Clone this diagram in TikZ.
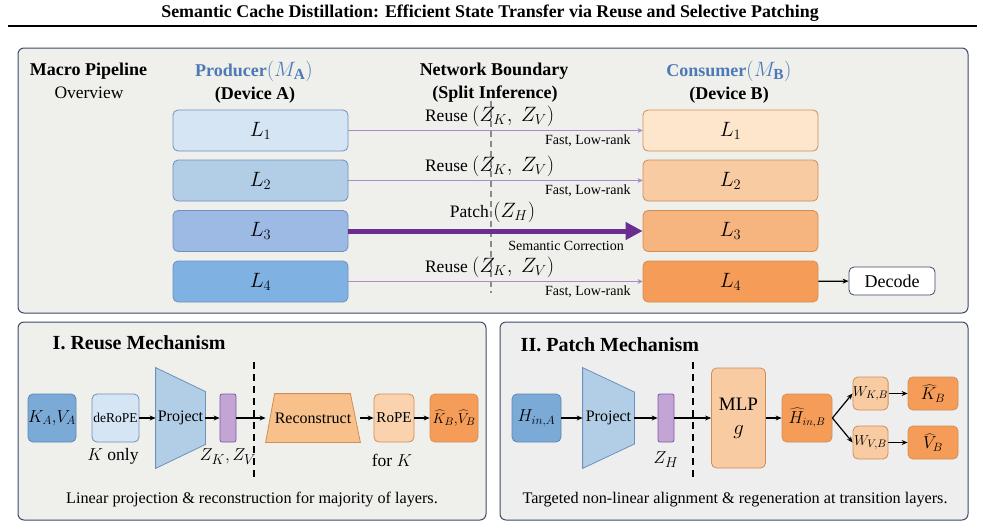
\documentclass[tikz,border=0pt]{standalone}
\usepackage{fontspec}
\setmainfont{Liberation Serif}
\usetikzlibrary{arrows.meta, calc, positioning}
\definecolor{cframe}{HTML}{3B4A68}
\definecolor{cpanel}{HTML}{EFEFEC}
\definecolor{cpanelb}{HTML}{EEEEEE}
\definecolor{cblueline}{HTML}{6F8FBC}
\definecolor{cbluetext}{HTML}{4C7AB6}
\definecolor{corline}{HTML}{D08E55}
\definecolor{cpurple}{HTML}{6C2D91}
\definecolor{clilac}{HTML}{A98BC6}
\definecolor{cbar}{HTML}{C2A5D4}
\definecolor{cbarline}{HTML}{7E5AA6}
\definecolor{cgrey}{HTML}{8A8A8A}
\definecolor{ab1}{HTML}{D5E5F4}
\definecolor{ab2}{HTML}{B2CEE6}
\definecolor{ab3}{HTML}{9DBAE5}
\definecolor{ab4}{HTML}{80B1E3}
\definecolor{ob1}{HTML}{FDE6CC}
\definecolor{ob2}{HTML}{F8CBA2}
\definecolor{ob3}{HTML}{F6B47E}
\definecolor{ob4}{HTML}{F59D58}
\definecolor{cdark}{HTML}{7BAAD7}
\definecolor{cdarkline}{HTML}{5A86B8}
\definecolor{cpeach}{HTML}{F8C08A}
\definecolor{clight}{HTML}{FAD3AE}
\tikzset{
  every picture/.style={line width=0.8pt},
  panel/.style={draw=cframe, fill=#1, rounded corners=6pt, line width=1pt},
  layer/.style={draw=#1, rounded corners=5pt, minimum width=175pt, minimum height=41pt, inner sep=0pt, font=\fontsize{21}{24}\selectfont},
  blk/.style 2 args={draw=#1, fill=#2, rounded corners=5pt, inner sep=0pt, align=center, font=\fontsize{15}{17}\selectfont},
  bar/.style={draw=cbarline, fill=cbar, rounded corners=2pt, minimum width=16pt, minimum height=48pt, inner sep=0pt},
  arrow/.style={-{Stealth[length=6pt, width=5pt]}, line width=1.2pt},
  reuse/.style={-{Stealth[length=5pt, width=5pt]}, draw=clilac, line width=1.3pt},
  patch/.style={-{Triangle[length=17pt, width=17pt]}, draw=cpurple, line width=5pt},
  hdr/.style={font=\bfseries\fontsize{18}{21}\selectfont},
  sub/.style={font=\fontsize{17.5}{20}\selectfont},
  sec/.style={font=\bfseries\fontsize{20}{23}\selectfont, anchor=west},
  note/.style={font=\fontsize{14}{16}\selectfont},
  captext/.style={font=\fontsize{16.2}{19}\selectfont},
  splitline/.style={draw=black, line width=1.6pt, dash pattern=on 7pt off 5pt},
}

\begin{document}
\begin{tikzpicture}[x=1pt, y=-1pt]
  \useasboundingbox (0,0) rectangle (985,528);
  % title and rule
  \node[font=\bfseries\fontsize{17.9}{20}\selectfont] (title) at (490,13) {Semantic Cache Distillation: Efficient State Transfer via Reuse and Selective Patching};
  \draw[line width=2pt] (8,26) -- (977,26);

  % panels
  \draw[panel=cpanel] (18,48) rectangle (968,313);
  \draw[panel=cpanel] (18,322) rectangle (486,520);
  \draw[panel=cpanelb] (500,322) rectangle (968,520);

  % macro pipeline
  \node[hdr] (macro) at (88.5,71) {Macro Pipeline};
  \node[sub] (overview) at (89,93) {Overview};
  \node[hdr, text=cbluetext] (prod) at (254,71) {Producer{\fontsize{22}{24}\selectfont$\bigl(M_{\mathbf{A}}\bigr)$}};
  \node[hdr] (devA) at (255,95) {(Device A)};
  \node[hdr] (net) at (494,71) {Network Boundary};
  \node[hdr] (splitinf) at (495,94) {(Split Inference)};
  \node[hdr, text=cbluetext] (cons) at (729,71) {Consumer{\fontsize{22}{24}\selectfont$\bigl(M_{\mathbf{B}}\bigr)$}};
  \node[hdr] (devB) at (729,95) {(Device B)};
  \draw[cgrey, line width=1.2pt, dash pattern=on 6pt off 4pt] (491,101) -- (491,293);

  \foreach \i/\y in {1/130.5, 2/180.5, 3/231, 4/281.5} {
    \node[layer=cblueline, fill=ab\i] (pa\i) at (260.5,\y) {$L_{\i}$};
    \node[layer=corline, fill=ob\i] (cb\i) at (730.5,\y) {$L_{\i}$};
  }
  \foreach \i in {1,2,4} {
    \draw[reuse] (pa\i) -- (cb\i)
      node[pos=0.48, above=0pt, sub, text=black] {Reuse {\fontsize{20}{22}\selectfont$(Z_K,\ Z_V)$}}
      node[pos=1, below left=0pt and 8pt, note, text=black] {Fast, Low-rank};
  }
  \draw[patch] (pa3) -- (cb3)
    node[pos=0.49, above=3pt, sub, text=black] {Patch {\fontsize{20}{22}\selectfont$(Z_H)$}}
    node[pos=0.74, below=4pt, note, text=black] {Semantic Correction};

  \node[blk={cframe}{white}, minimum width=86pt, minimum height=28pt, font=\fontsize{18}{20}\selectfont] (decode) at (892,281) {Decode};
  \draw[arrow] (cb4) -- (decode);

  % I. reuse mechanism
  \node[sec] (reusehd) at (49,343) {I. Reuse Mechanism};
  \node[blk={cdarkline}{cdark}, minimum width=48pt, minimum height=48pt, font=\fontsize{17}{19}\selectfont] (kvA) at (52,418) {$K_A,\!V_A$};
  \node[blk={cblueline}{ab1}, minimum width=47pt, minimum height=48pt, font=\fontsize{13.5}{15}\selectfont] (derope) at (115.5,418) {deRoPE};
  \node[minimum width=49pt, minimum height=100pt, inner sep=0pt] (projA) at (180.5,418) {};
  \draw[draw=cblueline, fill=ab2] (projA.north west) -- ($(projA.east)+(0,-26.5)$) -- ($(projA.east)+(0,26.5)$) -- (projA.south west) -- cycle;
  \node[font=\fontsize{16}{18}\selectfont] at (projA) {Project};
  \node[bar] (zA) at (228,418) {};
  \draw[splitline] (254,362) -- (254,478);
  \node[minimum width=94pt, minimum height=48pt, inner sep=0pt] (recon) at (313,418) {};
  \draw[draw=corline, fill=cpeach] ($(recon.north west)+(9,0)$) -- ($(recon.north east)+(-10,0)$) -- (recon.south east) -- (recon.south west) -- cycle;
  \node[font=\fontsize{16}{18}\selectfont] at (recon) {Reconstruct};
  \node[blk={corline}{clight}, minimum width=40pt, minimum height=48pt] (rope) at (394,418) {RoPE};
  \node[blk={corline}{ob4}, minimum width=48pt, minimum height=48pt, font=\fontsize{15}{17}\selectfont] (kvB) at (454,418) {$\widehat{K}_B,\!\widehat{V}_B$};
  \node[sub] (konly) at (113,456) {{\fontsize{19}{21}\selectfont$K$} only};
  \node[sub, font=\fontsize{19}{21}\selectfont] (zkzv) at (228,457) {$Z_K, Z_V$};
  \node[sub] (fork) at (392,460) {for {\fontsize{19}{21}\selectfont$K$}};
  \draw[arrow] (derope) -- (projA.west);
  \draw[arrow] (projA.east) -- (zA);
  \draw[arrow] (zA) -- (recon.west);
  \draw[arrow] (recon.east) -- (rope);
  \draw[arrow] (rope) -- (kvB);
  \node[captext] (capA) at (252,500) {Linear projection \& reconstruction for majority of layers.};

  % II. patch mechanism
  \node[sec] (patchhd) at (517,345) {II. Patch Mechanism};
  \node[blk={cdarkline}{cdark}, minimum width=49pt, minimum height=48pt, font=\fontsize{18}{20}\selectfont] (hA) at (536.5,418) {$H_{in,A}$};
  \node[minimum width=51pt, minimum height=100pt, inner sep=0pt] (projB) at (608.5,418) {};
  \draw[draw=cblueline, fill=ab2] (projB.north west) -- ($(projB.east)+(0,-26)$) -- ($(projB.east)+(0,26)$) -- (projB.south west) -- cycle;
  \node[font=\fontsize{16}{18}\selectfont] at (projB) {Project};
  \node[bar] (zH) at (666,418) {};
  \draw[splitline] (693,362) -- (693,478);
  \node[blk={corline}{ob2}, minimum width=54pt, minimum height=100pt, font=\fontsize{19}{24}\selectfont] (mlp) at (738.5,418) {MLP\\{\fontsize{22}{24}\selectfont$g$}};
  \node[blk={corline}{ob4}, minimum width=50pt, minimum height=48pt, font=\fontsize{16}{18}\selectfont] (hB) at (807,418) {$\widehat{H}_{in,B}$};
  \node[blk={corline}{ob2}, minimum width=35pt, minimum height=33pt] (wK) at (870.5,393.5) {$W_{K,B}$};
  \node[blk={corline}{ob2}, minimum width=35pt, minimum height=33pt] (wV) at (870.5,442.5) {$W_{V,B}$};
  \node[blk={corline}{ob4}, minimum width=50pt, minimum height=33pt, font=\fontsize{18}{20}\selectfont] (kB) at (933,393.5) {$\widehat{K}_B$};
  \node[blk={corline}{ob4}, minimum width=50pt, minimum height=33pt, font=\fontsize{18}{20}\selectfont] (vB) at (933,442.5) {$\widehat{V}_B$};
  \node[sub, font=\fontsize{19}{21}\selectfont] (zhlab) at (666,460) {$Z_H$};
  \draw[arrow] (hA) -- (projB.west);
  \draw[arrow] (projB.east) -- (zH);
  \draw[arrow] (zH) -- (mlp);
  \draw[arrow] (mlp) -- (hB);
  \draw[arrow] (hB.east) -- (wK.west);
  \draw[arrow] (hB.east) -- (wV.west);
  \draw[arrow] (wK) -- (kB);
  \draw[arrow] (wV) -- (vB);
  \node[captext] (capB) at (735,500) {Targeted non-linear alignment \& regeneration at transition layers.};
\end{tikzpicture}
\end{document}
